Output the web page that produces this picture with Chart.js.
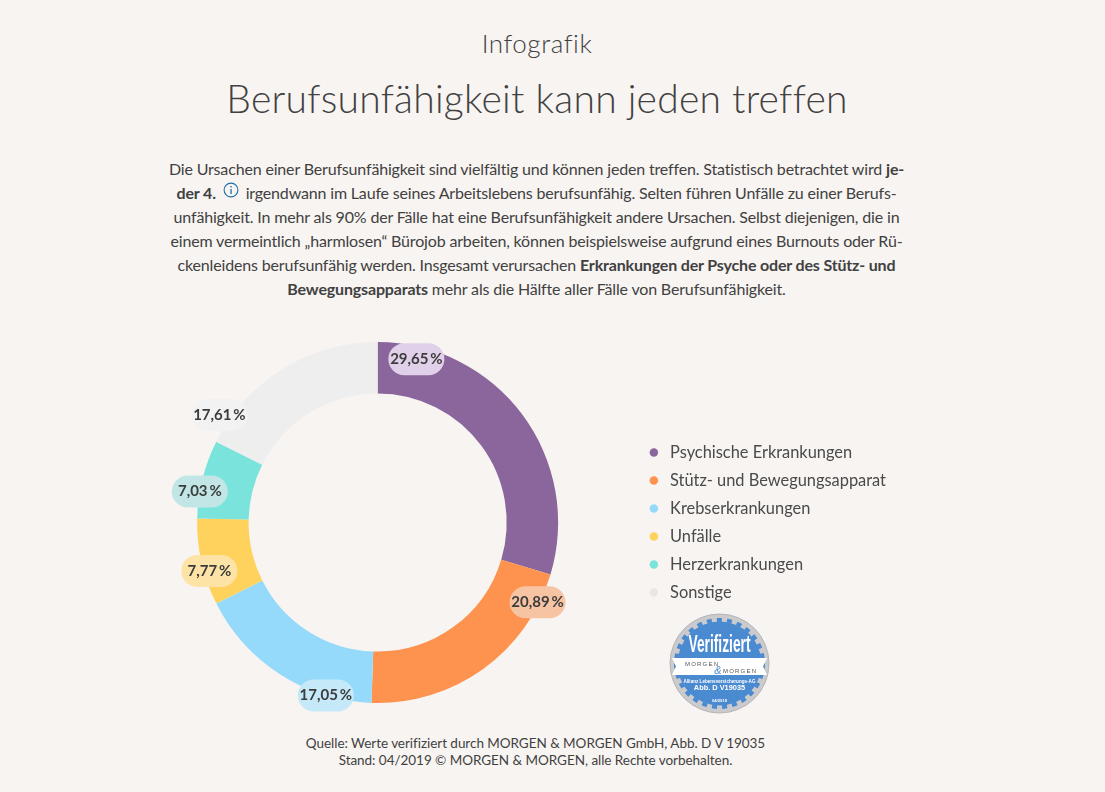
<!DOCTYPE html>
<html lang="de"><head><meta charset="utf-8">
<script src="https://cdn.jsdelivr.net/npm/chart.js@4"></script>
<style>
html,body{margin:0;padding:0;background:#f8f4f1;overflow:hidden}
body{width:1105px;height:792px;position:relative;font-family:Lato,sans-serif;color:#414141}
.t{position:absolute;left:0;width:1074px;text-align:center;white-space:nowrap}
#sup{top:27px;font-size:26px;line-height:32px;font-weight:300;letter-spacing:.55px}
#ttl{top:75px;font-size:39px;line-height:46px;font-weight:300;letter-spacing:.25px}
#body{top:157px;width:1073px;font-size:16px;line-height:24px;letter-spacing:-.165px}
#body b{font-weight:700}
#src{top:735px;width:1071px;font-size:13.5px;line-height:17px;letter-spacing:-.04px}
#wrap{position:absolute;left:121px;top:332px;width:775px;height:381px}
#seal{position:absolute;left:669px;top:613px}
.i{display:inline-block;vertical-align:1px;margin:0 3px}
</style></head><body>
<div class="t" id="sup">Infografik</div>
<div class="t" id="ttl">Berufsunfähigkeit kann jeden treffen</div>
<div class="t" id="body">Die Ursachen einer Berufsunfähigkeit sind vielfältig und können jeden treffen. Statistisch betrachtet wird <b>je-</b><br>
<b>der 4.</b> <svg class="i" width="16" height="16" viewBox="0 0 16 16"><circle cx="8" cy="8" r="6.9" fill="none" stroke="#1d6fa8" stroke-width="1.1"/><rect x="7.4" y="7" width="1.3" height="5" fill="#1d6fa8"/><rect x="7.4" y="4" width="1.3" height="1.5" fill="#1d6fa8"/></svg> irgendwann im Laufe seines Arbeitslebens berufsunfähig. Selten führen Unfälle zu einer Berufs-<br>
unfähigkeit. In mehr als 90% der Fälle hat eine Berufsunfähigkeit andere Ursachen. Selbst diejenigen, die in<br>
einem vermeintlich „harmlosen“ Bürojob arbeiten, können beispielsweise aufgrund eines Burnouts oder Rü-<br>
ckenleidens berufsunfähig werden. Insgesamt verursachen <b>Erkrankungen der Psyche oder des Stütz- und</b><br>
<b>Bewegungsapparats</b> mehr als die Hälfte aller Fälle von Berufsunfähigkeit.</div>
<div id="wrap"><canvas id="c"></canvas></div>
<svg id="seal" width="101" height="101" viewBox="0 0 101 101" font-family="Liberation Sans,sans-serif" text-anchor="middle">
<circle cx="50.5" cy="50.5" r="49.5" fill="#cbcbcd" stroke="#b5b5b8" stroke-width="1"/>
<circle cx="50.5" cy="50.5" r="42" fill="#4a8ad0"/>
<circle cx="50.5" cy="50.5" r="43.5" fill="none" stroke="#4a8ad0" stroke-width="4" stroke-dasharray="5.05 5.05"/>
<path d="M3 45H98L94 53.5L98 62H3L7 53.5Z" fill="#fff"/>
<text x="50.5" y="39" font-family="Liberation Sans Narrow,sans-serif" font-size="24" font-weight="700" fill="#fff" textLength="62" lengthAdjust="spacingAndGlyphs">Verifiziert</text>
<text x="16" y="53" font-size="6" fill="#555" letter-spacing="1.2" text-anchor="start">MORGEN</text>
<text x="54" y="60" font-size="6" fill="#555" letter-spacing="1.2" text-anchor="start">MORGEN</text>
<text x="49" y="61" font-size="11" font-style="italic" fill="#4a8ad0">&amp;</text>
<text x="50.5" y="69.5" font-size="4.6" font-weight="700" fill="#fff">Allianz Lebensversicherungs-AG</text>
<text x="50.5" y="77" font-size="7.4" font-weight="700" fill="#fff">Abb. D V19035</text>
<text x="50.5" y="89" font-size="4.2" font-weight="700" fill="#fff">04/2019</text>
</svg>
<div class="t" id="src">Quelle: Werte verifiziert durch MORGEN &amp; MORGEN GmbH, Abb. D V 19035<br>Stand: 04/2019 © MORGEN &amp; MORGEN, alle Rechte vorbehalten.</div>
<script>
const categories = ["Psychische Erkrankungen","Stütz- und Bewegungsapparat","Krebserkrankungen","Unfälle","Herzerkrankungen","Sonstige"];
const shares = [29.65,20.89,17.05,7.77,7.03,17.61];
const shareLabels = ["29,65\u2009%","20,89\u2009%","17,05\u2009%","7,77\u2009%","7,03\u2009%","17,61\u2009%"];
const sliceColors = ["#8b669c","#fe924f","#96dafb","#ffd25d","#7ae4dc","#eeeeee"];
const legendColors = ["#8b669c","#fe924f","#96dafb","#ffd25d","#7ae4dc","#e9e8e0"];
const bubbleColors = ["#e0d0e9","#f6c4a3","#c6e9f9","#fde3a6","#c2e5e5","#f2f2f3"];

const bubbleLabels = {
  id:"bubbleLabels",
  afterDatasetsDraw(chart){
    const ctx=chart.ctx, arcs=chart.getDatasetMeta(0).data;
    const along=[.125,.13,.24,.38,.34,.12], out=[.93,.99,1,.97,1,1.06];
    ctx.save();
    ctx.font="700 15px Lato, sans-serif";
    ctx.textAlign="center"; ctx.textBaseline="middle";
    arcs.forEach((a,i)=>{
      const ang=a.startAngle+(a.endAngle-a.startAngle)*along[i];
      const r=a.outerRadius*out[i];
      const x=a.x+Math.cos(ang)*r, y=a.y+Math.sin(ang)*r;
      ctx.fillStyle=bubbleColors[i];
      ctx.beginPath(); ctx.roundRect(x-28,y-16,56,32,16); ctx.fill();
      ctx.fillStyle="#3c3c3c";
      ctx.fillText(shareLabels[i],x,y);
    });
    ctx.restore();
  }
};

new Chart(document.getElementById("c"),{
  type:"doughnut",
  data:{labels:categories,datasets:[{data:shares,backgroundColor:sliceColors,borderWidth:0}]},
  options:{
    responsive:true,maintainAspectRatio:false,animation:false,cutout:"71.5%",
    layout:{padding:{top:10,bottom:10}},
    plugins:{
      tooltip:{enabled:false},
      legend:{position:"right",align:"center",
        labels:{usePointStyle:true,pointStyle:"circle",boxWidth:16,boxHeight:6,padding:11.6,color:"#4a4a4a",
          font:{family:"Lato, sans-serif",size:16.4},
          generateLabels:()=>categories.map((t,i)=>({text:t,fillStyle:legendColors[i],strokeStyle:legendColors[i],lineWidth:0,pointStyle:"circle",index:i,hidden:false,fontColor:"#4a4a4a"}))}
      }
    }
  },
  plugins:[bubbleLabels]
});
</script>
</body></html>
